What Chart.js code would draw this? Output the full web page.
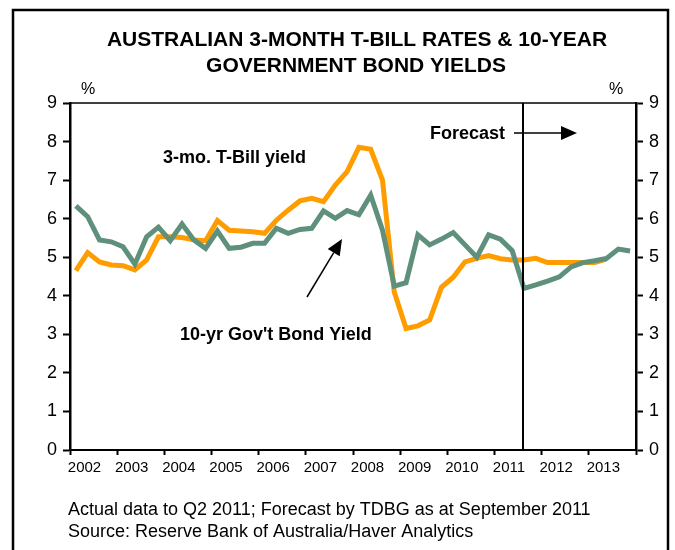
<!DOCTYPE html>
<html>
<head>
<meta charset="utf-8">
<title>Australian 3-month T-bill rates &amp; 10-year government bond yields</title>
<script src="https://cdn.jsdelivr.net/npm/chart.js@4.4.1/dist/chart.umd.min.js"></script>
<style>
  html, body { margin: 0; padding: 0; background: #fff; }
  canvas { display: block; }
</style>
</head>
<body>
<canvas id="ratesChart" width="675" height="550"></canvas>
<script>
const FONT = '"Liberation Sans", Arial, Helvetica, sans-serif';

// Quarterly series, Q1 2002 .. Q4 2013 (actual to Q2 2011, TDBG forecast after)
const firstYear = 2002;
const years = ["2002", "2003", "2004", "2005", "2006", "2007", "2008", "2009", "2010", "2011", "2012", "2013"];
const tbillYield = [
  4.65, 5.12, 4.88, 4.80, 4.78, 4.67, 4.93, 5.53, 5.53, 5.51, 5.45, 5.43,
  5.95, 5.70, 5.68, 5.66, 5.62, 5.96, 6.22, 6.46, 6.53, 6.44, 6.87, 7.22,
  7.85, 7.80, 7.00, 4.10, 3.15, 3.22, 3.37, 4.22, 4.48, 4.88, 4.97, 5.04,
  4.96, 4.93, 4.93, 4.97, 4.86, 4.86, 4.86, 4.86, 4.86, 4.95, null, null
];
const bondYield = [
  6.33, 6.05, 5.45, 5.40, 5.27, 4.82, 5.53, 5.78, 5.43, 5.86, 5.45, 5.23,
  5.68, 5.23, 5.26, 5.36, 5.36, 5.75, 5.62, 5.72, 5.75, 6.20, 6.01, 6.21,
  6.10, 6.61, 5.70, 4.25, 4.34, 5.58, 5.32, 5.47, 5.64, 5.32, 5.00, 5.58,
  5.47, 5.17, 4.19, 4.28, 4.38, 4.49, 4.75, 4.86, 4.91, 4.97, 5.21, 5.16
];
const forecastFrom = 2011.6;
const yMin = 0, yMax = 9;

// each quarter sits in the middle of its slot within the year
const toPoints = arr => arr.map((v, i) => ({ x: firstYear + (i + 0.5) / 4, y: v }));

function drawArrow(ctx, x1, y1, x2, y2, headLen, headHalf) {
  const a = Math.atan2(y2 - y1, x2 - x1);
  const bx = x2 - headLen * Math.cos(a), by = y2 - headLen * Math.sin(a);
  ctx.beginPath();
  ctx.moveTo(x1, y1);
  ctx.lineTo(bx, by);
  ctx.stroke();
  ctx.beginPath();
  ctx.moveTo(x2, y2);
  ctx.lineTo(bx + headHalf * Math.sin(a), by - headHalf * Math.cos(a));
  ctx.lineTo(bx - headHalf * Math.sin(a), by + headHalf * Math.cos(a));
  ctx.closePath();
  ctx.fill();
}

const decorations = {
  id: "decorations",
  beforeDraw(chart) {
    const ctx = chart.ctx;
    ctx.save();
    ctx.fillStyle = "#fff";
    ctx.fillRect(0, 0, chart.width, chart.height);
    ctx.strokeStyle = "#000";
    ctx.lineWidth = 2.5;
    ctx.strokeRect(13, 10, 655, 600);
    ctx.restore();
  },
  afterDatasetsDraw(chart) {
    const { ctx, chartArea, scales } = chart;
    ctx.save();
    ctx.strokeStyle = "#000";
    // top edge of the plot box
    ctx.lineWidth = 1.5;
    ctx.beginPath();
    ctx.moveTo(chartArea.left, chartArea.top);
    ctx.lineTo(chartArea.right, chartArea.top);
    ctx.stroke();
    // start of forecast period
    const fx = Math.round(scales.x.getPixelForValue(forecastFrom));
    ctx.lineWidth = 2;
    ctx.beginPath();
    ctx.moveTo(fx, chartArea.top);
    ctx.lineTo(fx, chartArea.bottom);
    ctx.stroke();
    ctx.restore();
  },
  afterDraw(chart) {
    const ctx = chart.ctx;
    ctx.save();
    ctx.fillStyle = "#000";
    ctx.strokeStyle = "#000";
    ctx.textBaseline = "middle";

    ctx.font = "bold 21px " + FONT;
    ctx.textAlign = "center";
    ctx.fillText("AUSTRALIAN 3-MONTH T-BILL RATES & 10-YEAR", 357, 40);
    ctx.fillText("GOVERNMENT BOND YIELDS", 356, 66);

    ctx.font = "16px " + FONT;
    ctx.fillText("%", 88, 90);
    ctx.fillText("%", 616, 90);

    ctx.font = "bold 18px " + FONT;
    ctx.textAlign = "left";
    ctx.fillText("3-mo. T-Bill yield", 163, 158);
    ctx.fillText("Forecast", 430, 134);
    ctx.fillText("10-yr Gov't Bond Yield", 180, 335);

    ctx.lineWidth = 1.5;
    drawArrow(ctx, 514, 133, 577, 133, 16, 7);
    drawArrow(ctx, 307, 297, 342, 239, 16, 7);

    ctx.font = "18px " + FONT;
    ctx.fillText("Actual data to Q2 2011; Forecast by TDBG as at September 2011", 68, 510);
    ctx.fillText("Source: Reserve Bank of Australia/Haver Analytics", 68, 532);
    ctx.restore();
  }
};

const yAxis = (position, width) => ({
  type: "linear",
  position: position,
  min: yMin,
  max: yMax,
  ticks: {
    stepSize: 1,
    color: "#000",
    padding: 6,
    font: { family: FONT, size: 18 }
  },
  grid: { drawOnChartArea: false, drawTicks: true, tickLength: 7, tickWidth: 2, tickColor: "#000" },
  border: { display: true, color: "#000", width: 2.5 },
  afterFit(scale) { scale.width = width; }
});

new Chart(document.getElementById("ratesChart"), {
  type: "line",
  data: {
    datasets: [
      {
        label: "10-yr Gov't Bond Yield",
        data: toPoints(bondYield),
        borderColor: "#5f907c",
        borderWidth: 5,
        pointRadius: 0,
        tension: 0,
        order: 1
      },
      {
        label: "3-mo. T-Bill yield",
        data: toPoints(tbillYield),
        borderColor: "#ff9c00",
        borderWidth: 5,
        pointRadius: 0,
        tension: 0,
        order: 2
      }
    ]
  },
  options: {
    responsive: false,
    animation: false,
    layout: { padding: { top: 103, left: 0, right: 0, bottom: 0 } },
    plugins: {
      legend: { display: false },
      tooltip: { enabled: false }
    },
    scales: {
      x: {
        type: "linear",
        min: firstYear,
        max: firstYear + years.length,
        ticks: {
          stepSize: 1,
          color: "#000",
          padding: 4,
          labelOffset: 14.5,
          maxRotation: 0,
          autoSkip: false,
          font: { family: FONT, size: 15 },
          callback: v => years.includes(String(v)) ? String(v) : ""
        },
        grid: { drawOnChartArea: false, drawTicks: true, tickLength: 5, tickWidth: 2, tickColor: "#000" },
        border: { display: true, color: "#000", width: 2 },
        afterFit(scale) { scale.height = 100; }
      },
      y: yAxis("left", 70),
      y2: yAxis("right", 39)
    }
  },
  plugins: [decorations]
});
</script>
</body>
</html>
